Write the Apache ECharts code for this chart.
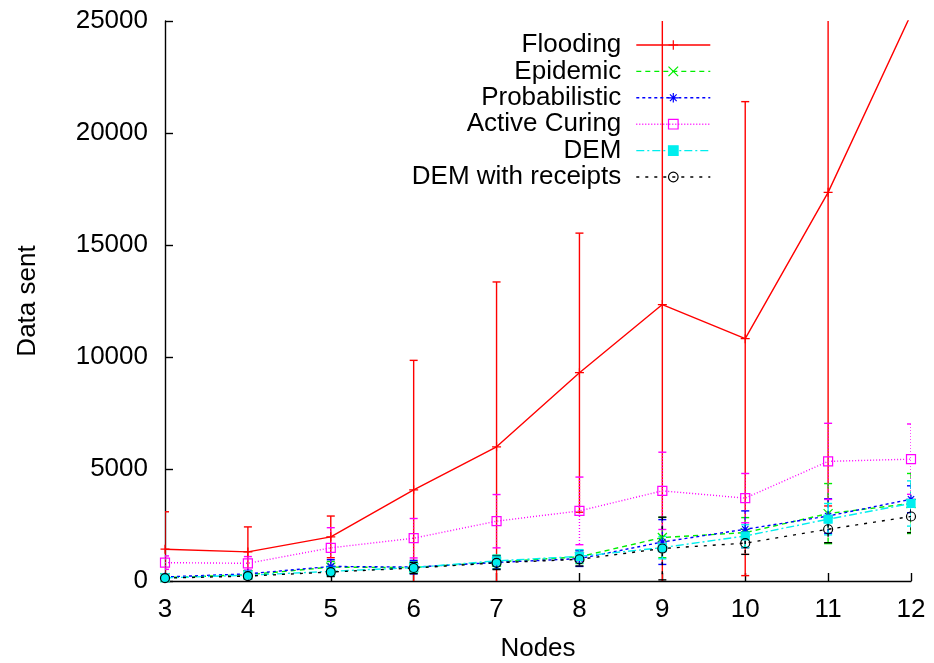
<!DOCTYPE html>
<html>
<head>
<meta charset="utf-8">
<script src="https://cdn.jsdelivr.net/npm/echarts@6/dist/echarts.min.js"></script>
<style>
html,body{margin:0;padding:0;background:#fff;}
#chart{width:934px;height:663px;}
</style>
</head>
<body>
<div id="chart"></div>
<script>
const nodes = [3, 4, 5, 6, 7, 8, 9, 10, 11, 12];
const yTicks = [0, 5000, 10000, 15000, 20000, 25000];
const seriesNames = ['Flooding', 'Epidemic', 'Probabilistic', 'Active Curing', 'DEM', 'DEM with receipts'];

const floodingMean = [1420, 1300, 1970, 4070, 5990, 9300, 12340, 10820, 17350, 25300];
const floodingErr  = [1670, 1115, 930, 5780, 7360, 6230, 13000, 10580, 14000, null];
const epidemicMean = [150, 280, 620, 600, 850, 1080, 1940, 2160, 3010, 3460];
const epidemicErr  = [60, 100, 250, 250, 300, 300, 900, 670, 1340, 1340];
const probMean     = [180, 320, 650, 620, 830, 1000, 1740, 2310, 2900, 3650];
const probErr      = [80, 120, 300, 300, 300, 350, 1000, 820, 770, 600];
const curingMean   = [820, 790, 1480, 1910, 2670, 3130, 4025, 3700, 5340, 5440];
const curingErr    = [300, 300, 900, 880, 1190, 1510, 1725, 1100, 1700, 1570];
const demMean      = [140, 260, 430, 600, 900, 1100, 1490, 2010, 2760, 3460];
const demErr       = [60, 100, 200, 250, 250, 300, 500, 500, 700, 1010];
const demrMean     = [130, 220, 400, 580, 810, 970, 1450, 1690, 2310, 2880];
const demrErr      = [50, 100, 200, 250, 300, 300, 1400, 500, 600, 720];

const FONT = 'Liberation Sans';
const FS = 26;
const LW = 1.4;
const styles = [
  {color:'#ff0000', dash:'solid', dashArr:null, symbol:'path://M0,5L10,5M5,0L5,10', fill:'#ff0000', size:9},
  {color:'#00ee00', dash:[5,4], dashArr:[5,4], symbol:'path://M0,0L10,10M10,0L0,10', fill:'#00ee00', size:9},
  {color:'#0000ff', dash:[3,3], dashArr:[3,3], symbol:'path://M0,5L10,5M5,0L5,10M1.5,1.5L8.5,8.5M8.5,1.5L1.5,8.5', fill:'#0000ff', size:9},
  {color:'#ff00ff', dash:[1,2], dashArr:[1,2], symbol:'rect', fill:'rgba(0,0,0,0)', size:9},
  {color:'#00eeee', dash:[8,3,2,3], dashArr:[8,3,2,3], symbol:'rect', fill:'#00eeee', size:8},
  {color:'#000000', dash:[3,6], dashArr:[3,6], symbol:'circle', fill:'rgba(0,0,0,0)', size:9}
];
const means = [floodingMean, epidemicMean, probMean, curingMean, demMean, demrMean];
const errs = [floodingErr, epidemicErr, probErr, curingErr, demErr, demrErr];

function errSeries(idx) {
  const st = styles[idx];
  const data = nodes.map((x, i) => [x, means[idx][i], errs[idx][i] == null ? NaN : errs[idx][i]]);
  return {
    type: 'custom', name: seriesNames[idx] + ' err', data: data, clip: true, silent: true,
    encode: {x: 0, y: 1},
    renderItem: function (params, api) {
      const x = api.value(0), m = api.value(1), e = api.value(2);
      if (isNaN(e)) return null;
      const t = api.coord([x, m + e]);
      const b = api.coord([x, m - e]);
      const s = {stroke: st.color, lineWidth: LW, lineDash: st.dashArr, fill: null};
      const c = {stroke: st.color, lineWidth: LW, fill: null};
      return {type: 'group', children: [
        {type: 'line', shape: {x1: t[0], y1: t[1], x2: b[0], y2: b[1]}, style: s},
        {type: 'line', shape: {x1: t[0] - 4, y1: t[1], x2: t[0] + 4, y2: t[1]}, style: c},
        {type: 'line', shape: {x1: b[0] - 4, y1: b[1], x2: b[0] + 4, y2: b[1]}, style: c}
      ]};
    }
  };
}
function lineSeries(idx) {
  const st = styles[idx];
  return {
    type: 'line', name: seriesNames[idx],
    data: nodes.map((x, i) => [x, means[idx][i]]),
    symbol: st.symbol, symbolSize: st.size, showAllSymbol: true,
    clip: true,
    lineStyle: {color: st.color, width: LW, type: st.dash},
    itemStyle: {color: st.fill, borderColor: st.color, borderWidth: 1.2},
    color: st.color,
    emphasis: {disabled: true}
  };
}
const series = [];
for (let i = 0; i < 6; i++) { series.push(errSeries(i)); series.push(lineSeries(i)); }

const chart = echarts.init(document.getElementById('chart'), null, {renderer: 'canvas'});
chart.setOption({
  animation: false,
  backgroundColor: '#ffffff',
  grid: {left: 165, right: 23, top: 21, bottom: 82, containLabel: false, outerBoundsMode: 'none'},
  legend: {
    data: seriesNames,
    orient: 'vertical', align: 'right',
    right: 223, top: 32, padding: 0,
    itemWidth: 74, itemHeight: 12, itemGap: 0.4,
    selectedMode: false,
    textStyle: {fontFamily: FONT, fontSize: FS, color: '#000', lineHeight: 20, padding: [0, 10, 0, 0]},
    lineStyle: {width: LW},
    itemStyle: {borderWidth: 1.2}
  },
  xAxis: {
    type: 'value', min: 3, max: 12, interval: 1,
    name: 'Nodes', nameLocation: 'middle', nameGap: 55,
    nameTextStyle: {fontFamily: FONT, fontSize: FS, color: '#000'},
    axisLine: {lineStyle: {color: '#000', width: 1.4}},
    axisTick: {inside: true, length: 8, lineStyle: {color: '#000', width: 1.4}},
    axisLabel: {fontFamily: FONT, fontSize: FS, color: '#000', margin: 16},
    splitLine: {show: false}
  },
  yAxis: {
    type: 'value', min: yTicks[0], max: yTicks[yTicks.length - 1], interval: yTicks[1] - yTicks[0],
    name: 'Data sent', nameLocation: 'middle', nameGap: 124, nameRotate: 90,
    nameTextStyle: {fontFamily: FONT, fontSize: FS, color: '#000'},
    axisLine: {lineStyle: {color: '#000', width: 1.4}},
    axisTick: {inside: true, length: 8, lineStyle: {color: '#000', width: 1.4}},
    axisLabel: {fontFamily: FONT, fontSize: FS, color: '#000', margin: 17, formatter: function (v) { return String(v); }},
    splitLine: {show: false}
  },
  series: series
});
</script>
</body>
</html>
